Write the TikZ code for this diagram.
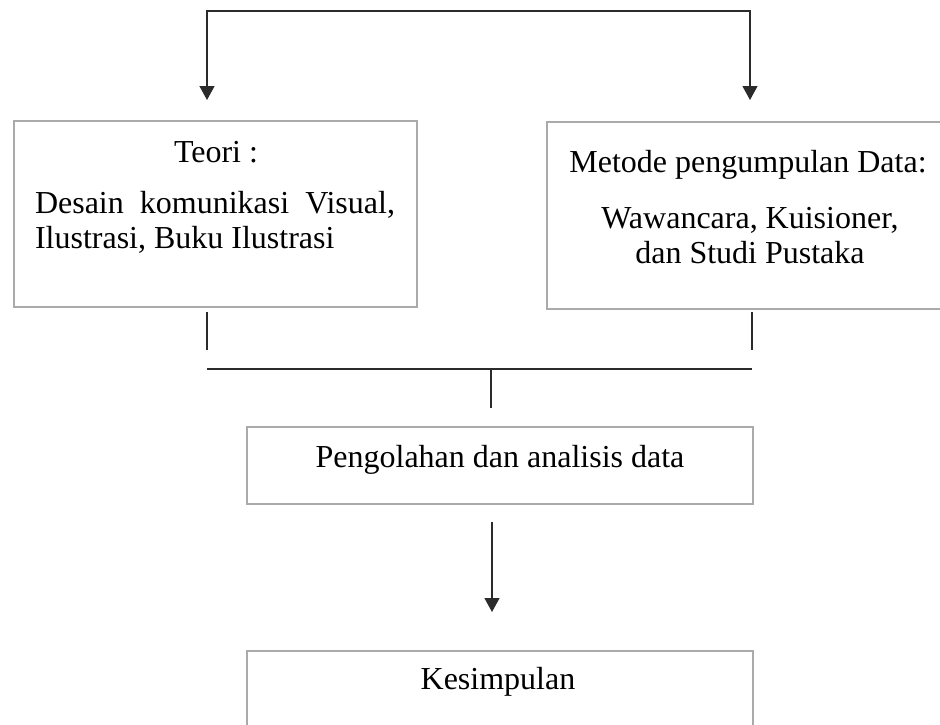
\documentclass[tikz,border=0pt]{standalone}
\usepackage{fontspec}
\setmainfont{Liberation Serif}
\usepackage{tikz}
\definecolor{gray400}{HTML}{AAAAAA}
\definecolor{gray900}{HTML}{2B2B2B}
\usetikzlibrary{arrows.meta}
\tikzset{>={Triangle[length=14pt,width=15pt]}}
\tikzstyle{kotak}=[rectangle, draw=gray400, line width=2pt, inner sep=0pt]
\tikzstyle{teks}=[inner sep=0pt, font=\fontsize{32}{35}\selectfont]
\tikzstyle{garis}=[draw=gray900, line width=1.3pt]

\begin{document}
\begin{tikzpicture}[x=1pt, y=-1pt]
			\clip (0,0) rectangle (940,724);
			\node[kotak, minimum width=403pt, minimum height=186pt] (k1) at (215.5,214) {};
			\node[kotak, minimum width=403pt, minimum height=187pt] (k2) at (748.5,215.5) {};
			\node[kotak, minimum width=506pt, minimum height=77pt] (k3) at (500,465.5) {};
			\node[kotak, minimum width=506pt, minimum height=80pt] (k4) at (500,691) {};
			\node[teks] (t1) at (216,152) {Teori :};
			\node[teks, text width=360pt, align=justify] (t2) at (215,222) {Desain komunikasi Visual,\linebreak Ilustrasi, Buku Ilustrasi};
			\node[teks] (m1) at (748,165) {Metode pengumpulan Data:};
			\node[teks, align=center] (m2) at (750,235.5) {Wawancara, Kuisioner,\\ dan Studi Pustaka};
			\node[teks] (p1) at (500,460) {Pengolahan dan analisis data};
			\node[teks] (s1) at (498,682) {Kesimpulan};
			\coordinate (a1) at (207,11);
			\coordinate (a2) at (750,11);
			\coordinate (b1) at (207,100);
			\coordinate (b2) at (750,100);
			\coordinate (c1) at (207,312);
			\coordinate (c2) at (752,312);
			\coordinate (d1) at (207,350);
			\coordinate (d2) at (752,350);
			\coordinate (e1) at (207,369);
			\coordinate (e2) at (752,369);
			\coordinate (e3) at (491,369);
			\coordinate (f1) at (491,408);
			\coordinate (g1) at (492,522);
			\coordinate (g2) at (492,612);
			\path[garis, <->] (b1)--(a1)--(a2)--(b2);
			\path[garis] (c1)--(d1)(c2)--(d2)(e1)--(e2)(e3)--(f1);
			\path[garis, ->] (g1)--(g2);
		\end{tikzpicture}
\end{document}
